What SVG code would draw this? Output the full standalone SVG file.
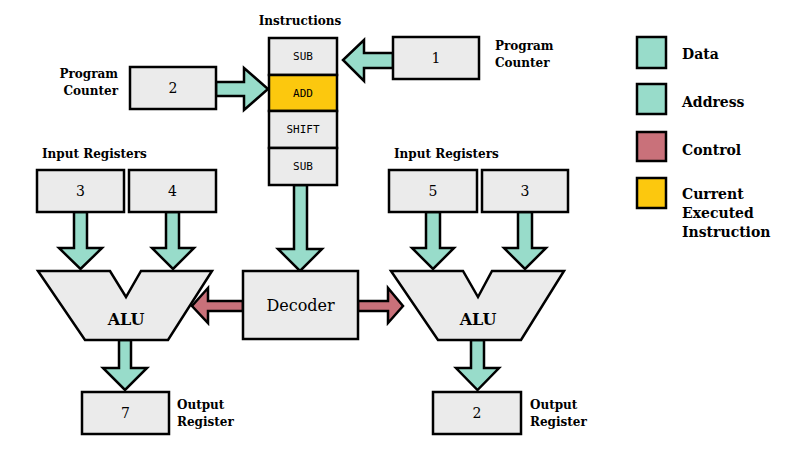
<svg xmlns="http://www.w3.org/2000/svg" width="800" height="450" viewBox="0 0 800 450">
<style>
.box{fill:#ebebeb;stroke:#000;stroke-width:2.5}
.data{fill:#98dcca;stroke:#000;stroke-width:2.5;stroke-linejoin:miter}
.ctrl{fill:#c9717a;stroke:#000;stroke-width:2.5}
.cur{fill:#fcc80e;stroke:#000;stroke-width:2.5}
.lbl{font-family:"DejaVu Serif","Liberation Serif",serif;font-weight:bold;font-size:12px;fill:#000}
.leg{font-family:"DejaVu Serif","Liberation Serif",serif;font-weight:bold;font-size:14px;fill:#000}
.num{font-family:"DejaVu Serif","Liberation Serif",serif;font-size:14px;fill:#000;text-anchor:middle}
.ins{font-family:"DejaVu Sans Mono","Liberation Mono",monospace;font-size:11px;fill:#000;text-anchor:middle}
.big{font-family:"DejaVu Serif","Liberation Serif",serif;font-size:16px;fill:#000;text-anchor:middle}
</style>
<rect width="800" height="450" fill="#fff"/>
<g id="connectors">
<polygon class="data" points="393,53 364,53 364,40 343,60 364,81 364,68 393,68"/>
<polygon class="data" points="216,82 244,82 244,68 268,89 244,110 244,96 216,96"/>
<polygon class="data" points="294,185 294,249 278,249 300,271 322,249 307,249 307,185"/>
<polygon class="data" points="74,212 74,248 59,248 80.5,269 102,248 87,248 87,212"/>
<polygon class="data" points="166,212 166,248 152,248 173,269 194,248 179,248 179,212"/>
<polygon class="data" points="426,212 426,248 412,248 433,269 454,248 440,248 440,212"/>
<polygon class="data" points="518,212 518,248 504,248 525,269 546,248 532,248 532,212"/>
<polygon class="data" points="119,340 119,368 103,368 125,390 147,368 131,368 131,340"/>
<polygon class="data" points="471,340 471,368 456,368 477.5,390 499,368 484,368 484,340"/>
<polygon class="ctrl" points="243,301 208,301 208,288 192,306 208,323 208,311 243,311"/>
<polygon class="ctrl" points="358,301 388,301 388,288 403,306 388,323 388,311 358,311"/>
</g>
<g id="instructions">
<text class="lbl" x="300" y="25" text-anchor="middle">Instructions</text>
<rect class="box" x="269" y="38" width="68" height="37"/>
<rect class="cur" x="269" y="75" width="68" height="36"/>
<rect class="box" x="269" y="111" width="68" height="37"/>
<rect class="box" x="269" y="148" width="68" height="37"/>
<text class="ins" x="303" y="60">SUB</text>
<text class="ins" x="303" y="97">ADD</text>
<text class="ins" x="303" y="133">SHIFT</text>
<text class="ins" x="303" y="170">SUB</text>
</g>
<g id="pc-right">
<rect class="box" x="393" y="37" width="86" height="42"/>
<text class="num" x="436" y="63">1</text>
<text class="lbl" x="495" y="50">Program</text>
<text class="lbl" x="495" y="67">Counter</text>
</g>
<g id="pc-left">
<rect class="box" x="130" y="67" width="86" height="42"/>
<text class="num" x="173" y="93">2</text>
<text class="lbl" x="118" y="78" text-anchor="end">Program</text>
<text class="lbl" x="118" y="95" text-anchor="end">Counter</text>
</g>
<g id="input-left">
<text class="lbl" x="42" y="158">Input Registers</text>
<rect class="box" x="37" y="170" width="87" height="42"/>
<text class="num" x="80.5" y="196">3</text>
<rect class="box" x="129" y="170" width="87" height="42"/>
<text class="num" x="172.5" y="196">4</text>
</g>
<g id="input-right">
<text class="lbl" x="394" y="158">Input Registers</text>
<rect class="box" x="389" y="170" width="88" height="42"/>
<text class="num" x="433" y="196">5</text>
<rect class="box" x="482" y="170" width="86" height="42"/>
<text class="num" x="525" y="196">3</text>
</g>
<g id="alu-left">
<polygon class="box" points="38,271 110,271 126,297 141,271 212,271 168,340 85,340"/>
<text class="big" x="126" y="325" font-weight="bold">ALU</text>
</g>
<g id="alu-right">
<polygon class="box" points="391,271 463,271 478,297 492,271 564,271 521,340 438,340"/>
<text class="big" x="478" y="325" font-weight="bold">ALU</text>
</g>
<g id="decoder">
<rect class="box" x="243" y="271" width="115" height="68"/>
<text class="big" x="300.5" y="311">Decoder</text>
</g>
<g id="output-left">
<rect class="box" x="82" y="392" width="87" height="42"/>
<text class="num" x="125.5" y="418">7</text>
<text class="lbl" x="177" y="409">Output</text>
<text class="lbl" x="177" y="426">Register</text>
</g>
<g id="output-right">
<rect class="box" x="433" y="392" width="88" height="42"/>
<text class="num" x="477" y="418">2</text>
<text class="lbl" x="530" y="409">Output</text>
<text class="lbl" x="530" y="426">Register</text>
</g>
<g id="legend">
<rect class="data" x="637" y="37" width="29" height="31"/>
<text class="leg" x="682" y="59">Data</text>
<rect class="data" x="637" y="84" width="29" height="30"/>
<text class="leg" x="682" y="107">Address</text>
<rect class="ctrl" x="637" y="132" width="29" height="29"/>
<text class="leg" x="682" y="155">Control</text>
<rect class="cur" x="637" y="178" width="29" height="30"/>
<text class="leg" x="682" y="199">Current</text>
<text class="leg" x="682" y="218">Executed</text>
<text class="leg" x="682" y="237">Instruction</text>
</g>
</svg>
